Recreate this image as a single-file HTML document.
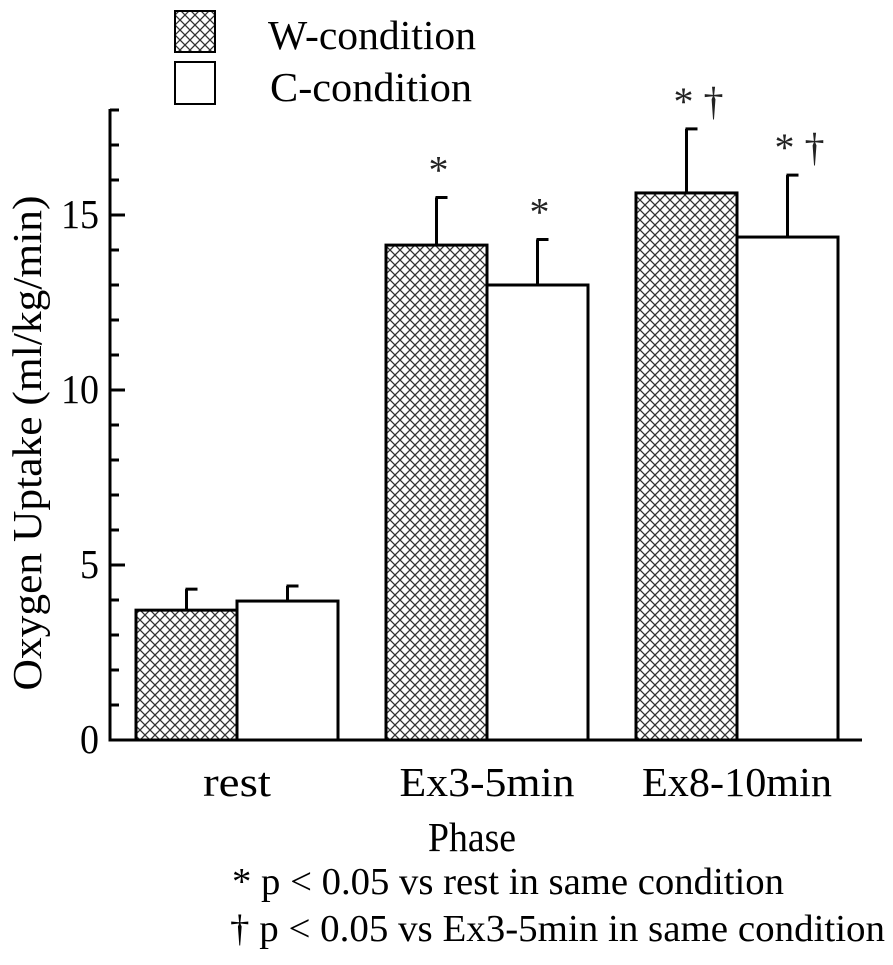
<!DOCTYPE html>
<html><head><meta charset="utf-8"><style>
html,body{margin:0;padding:0;background:#fff;}
svg{display:block;font-family:"Liberation Serif",serif;}
</style></head><body>
<svg id="chart" width="893" height="965" viewBox="0 0 893 965" xmlns="http://www.w3.org/2000/svg">
<defs>
<pattern id="hatch" patternUnits="userSpaceOnUse" width="10" height="10">
<rect width="10" height="10" fill="#fff"/>
<path d="M0,0 L10,10 M10,0 L0,10" stroke="#333" stroke-width="1.3"/>
</pattern>
</defs>
<g>
<rect x="175" y="11" width="40" height="41" fill="url(#hatch)" stroke="#000" stroke-width="2"/>
<text x="268" y="49" font-size="41" textLength="208" lengthAdjust="spacingAndGlyphs">W-condition</text>
<rect x="175" y="62" width="40" height="42" fill="#fff" stroke="#000" stroke-width="2"/>
<text x="270" y="101" font-size="41" textLength="202" lengthAdjust="spacingAndGlyphs">C-condition</text>
</g>
<g id="plot"></g>
<text transform="translate(41,443) rotate(-90)" text-anchor="middle" font-size="41" textLength="495" lengthAdjust="spacingAndGlyphs">Oxygen Uptake  (ml/kg/min)</text>
<text x="472" y="851" text-anchor="middle" font-size="41" textLength="88" lengthAdjust="spacingAndGlyphs">Phase</text>
<text x="232" y="894" font-size="38" textLength="552" lengthAdjust="spacingAndGlyphs">* p &lt; 0.05 vs rest in same condition</text>
<text x="230" y="941" font-size="38" textLength="655" lengthAdjust="spacingAndGlyphs">† p &lt; 0.05 vs Ex3-5min in same condition</text>
</svg>
<script>
const categories = ["rest","Ex3-5min","Ex8-10min"];
const categoryWidths = [68, 175, 190];
const wValues = [3.71, 14.14, 15.63];
const wErrors = [0.6, 1.36, 1.83];
const cValues = [3.97, 13.0, 14.37];
const cErrors = [0.43, 1.3, 1.77];
const wMarks = ["", "*", "* †"];
const cMarks = ["", "*", "* †"];
const yTicks = [0, 5, 10, 15];
const yMax = 18;

const NS = "http://www.w3.org/2000/svg";
const plot = document.getElementById("plot");
const x0 = 110, y0 = 740, yTop = 110, xEnd = 862;
const groupStart = 136, groupStep = 250, barW = 101;
function yScale(v){ return y0 - (v / yMax) * (y0 - yTop); }
function xGroup(i){ return groupStart + i * groupStep; }
function mk(tag, attrs){ const e = document.createElementNS(NS, tag); for (const k in attrs) e.setAttribute(k, attrs[k]); plot.appendChild(e); return e; }

function drawBar(i, v, err, fill, name, mark, xs){
  const top = yScale(v);
  const eTop = yScale(v + err);
  const cx = xs + barW / 2;
  const ln = mk("line", {x1: cx, y1: top, x2: cx, y2: eTop, stroke: "#000", "stroke-width": 3});
  
  
  const cap = mk("line", {x1: cx - 1, y1: eTop, x2: cx + 11, y2: eTop, stroke: "#000", "stroke-width": 3});
  
  
  const r = mk("rect", {x: xs, y: top, width: barW, height: y0 - top, fill: fill, stroke: "#000", "stroke-width": 3});
  
  
  if (mark) {
    const t = mk("text", {x: cx + (mark.length > 1 ? 12 : 2), y: eTop - 14, "text-anchor": "middle", "font-size": 40, fill: "#222"});
    t.textContent = mark;
    
    
  }
}
categories.forEach((c, i) => {
  const xs = xGroup(i);
  drawBar(i, wValues[i], wErrors[i], "url(#hatch)", "bar-w-" + i, wMarks[i], xs);
  drawBar(i, cValues[i], cErrors[i], "#fff", "bar-c-" + i, cMarks[i], xs + barW);
  const lbl = mk("text", {x: xs + barW - categoryWidths[i] / 2, y: 796, "font-size": 41, textLength: categoryWidths[i], lengthAdjust: "spacingAndGlyphs"});
  lbl.textContent = c;
  
  
});

const ya = mk("line", {x1: x0, y1: yTop - 1, x2: x0, y2: y0 + 1.5, stroke: "#000", "stroke-width": 3});


const xa = mk("line", {x1: x0 - 1.5, y1: y0, x2: xEnd, y2: y0, stroke: "#000", "stroke-width": 3});


for (let v = 1; v <= yMax; v++) {
  const major = v % 5 === 0;
  const t = mk("line", {x1: x0, y1: yScale(v), x2: x0 + (major ? 15 : 9), y2: yScale(v), stroke: "#000", "stroke-width": 3});
  
  
}
yTicks.forEach(v => {
  const s = String(v);
  const w = s.length * 19;
  const t = mk("text", {x: 99 - w, y: yScale(v) + 13, "font-size": 41, textLength: w, lengthAdjust: "spacingAndGlyphs"});
  t.textContent = s;
  
  
});
</script>
</body></html>
